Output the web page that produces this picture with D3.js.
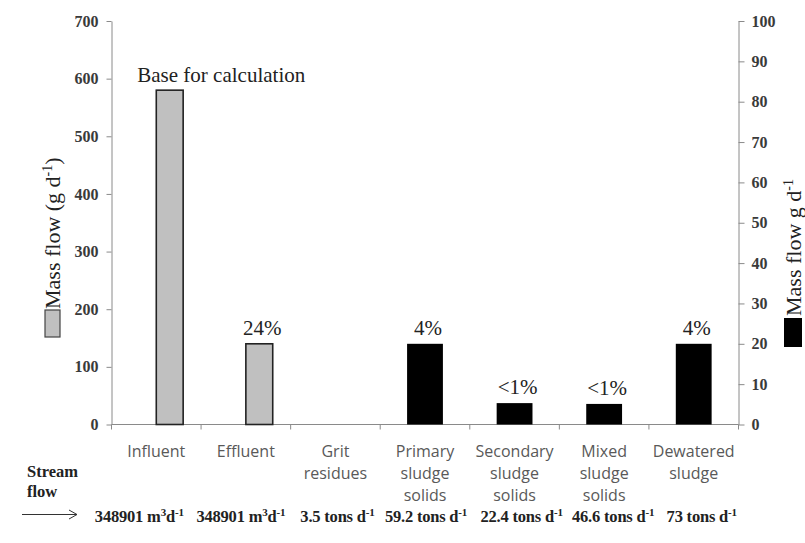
<!DOCTYPE html>
<html>
<head>
<meta charset="utf-8">
<script src="https://cdn.jsdelivr.net/npm/d3@7"></script>
<style>
  html, body { margin: 0; padding: 0; background: #fff; }
  svg { display: block; }
</style>
</head>
<body>
<svg id="chart" width="805" height="543"></svg>
<script>
// ---- data ----
const categories = ["Influent", "Effluent", "Grit residues", "Primary sludge solids",
                    "Secondary sludge solids", "Mixed sludge solids", "Dewatered sludge"];
const categoryLines = [["Influent"], ["Effluent"], ["Grit", "residues"], ["Primary", "sludge", "solids"],
                       ["Secondary", "sludge", "solids"], ["Mixed", "sludge", "solids"], ["Dewatered", "sludge"]];
// grey bars: left axis, g d-1
const greyValues = [580, 140, null, null, null, null, null];
// black bars: right axis, g d-1
const blackValues = [null, null, null, 20, 5.3, 5.1, 20];
const barLabels = ["Base for calculation", "24%", "", "4%", "<1%", "<1%", "4%"];
const streamValues = ["348901", "348901", "3.5", "59.2", "22.4", "46.6", "73"];
const streamUnits = ["m3", "m3", "tons", "tons", "tons", "tons", "tons"];
const leftTicks = [0, 100, 200, 300, 400, 500, 600, 700];
const rightTicks = [0, 10, 20, 30, 40, 50, 60, 70, 80, 90, 100];

// ---- layout ----
const svg = d3.select("#chart");
const x0 = 111.5, x1 = 738.5, yTop = 21, yBot = 424.5;
const serif = "'Liberation Serif', 'Times New Roman', serif";
const sans = "'Open Sans', 'Noto Sans', sans-serif";
const axisColor = "#8a8a8a";

const x = d3.scaleBand().domain(categories).range([x0, x1]).padding(0);
const yL = d3.scaleLinear().domain([0, 700]).range([yBot, yTop]);
const yR = d3.scaleLinear().domain([0, 100]).range([yBot, yTop]);
const bw = x.bandwidth();

// left axis
const gL = svg.append("g").attr("transform", `translate(${x0},0)`)
  .call(d3.axisLeft(yL).tickValues(leftTicks).tickSize(5).tickSizeOuter(0).tickPadding(8));
// right axis
const gR = svg.append("g").attr("transform", `translate(${x1},0)`)
  .call(d3.axisRight(yR).tickValues(rightTicks).tickSize(6).tickSizeOuter(0).tickPadding(7));
[gL, gR].forEach(g => {
  g.select(".domain").attr("stroke", axisColor);
  g.selectAll(".tick line").attr("stroke", axisColor);
  g.selectAll(".tick text").attr("fill", "#3a3a3a").attr("font-family", serif)
    .attr("font-weight", "bold").attr("font-size", 16);
});

// bottom axis line with category boundary ticks
svg.append("line").attr("x1", x0).attr("x2", x1).attr("y1", yBot).attr("y2", yBot)
  .attr("stroke", axisColor);
const bounds = categories.map(c => x(c)).concat([x1]);
svg.selectAll(".xtick").data(bounds).enter().append("line")
  .attr("x1", d => d).attr("x2", d => d).attr("y1", yBot).attr("y2", yBot + 5)
  .attr("stroke", axisColor);

// grey bars
const greyData = categories.map((c, i) => ({c, v: greyValues[i], i})).filter(d => d.v != null);
svg.selectAll(".grey").data(greyData).enter().append("rect")
  .attr("x", d => x(d.c) + bw / 2)
  .attr("width", bw * 0.3)
  .attr("y", d => yL(d.v))
  .attr("height", d => yL(0) - yL(d.v))
  .attr("fill", "#c0c0c0").attr("stroke", "#222").attr("stroke-width", 1.6);

// black bars
const blackData = categories.map((c, i) => ({c, v: blackValues[i], i})).filter(d => d.v != null);
svg.selectAll(".black").data(blackData).enter().append("rect")
  .attr("x", d => x(d.c) + bw / 2 - bw * 0.2)
  .attr("width", bw * 0.4)
  .attr("y", d => yR(d.v))
  .attr("height", d => yR(0) - yR(d.v))
  .attr("fill", "#000");

// bar labels
categories.forEach((c, i) => {
  const lab = barLabels[i];
  if (!lab) return;
  let cx, top;
  if (greyValues[i] != null) { cx = x(c) + bw / 2 + bw * 0.15; top = yL(greyValues[i]); }
  else { cx = x(c) + bw / 2; top = yR(blackValues[i]); }
  const t = svg.append("text").attr("font-family", serif).attr("font-size", 21)
    .attr("fill", "#222").text(lab);
  if (i === 0) {
    t.attr("x", x(c) + bw / 2 - 19).attr("y", top - 8).attr("text-anchor", "start");
  } else {
    t.attr("x", cx + 3).attr("y", top - 9).attr("text-anchor", "middle");
  }
});

// category labels
categories.forEach((c, i) => {
  const t = svg.append("text").attr("font-family", sans).attr("font-size", 16)
    .attr("fill", "#595959").attr("text-anchor", "middle");
  categoryLines[i].forEach((ln, k) => {
    t.append("tspan").attr("x", x(c) + bw / 2).attr("y", 457 + k * 22).text(ln);
  });
});

// stream flow row
const streamShift = [-17, -5, 2, 1, 7, 9, 8];
categories.forEach((c, i) => {
  const t = svg.append("text").attr("font-family", serif).attr("font-size", 16.5)
    .attr("font-weight", "bold").attr("fill", "#222").attr("text-anchor", "middle")
    .attr("letter-spacing", -0.2)
    .attr("x", x(c) + bw / 2 + streamShift[i]).attr("y", 522);
  t.append("tspan").text(streamValues[i] + " ");
  if (streamUnits[i] === "m3") {
    t.append("tspan").text("m");
    t.append("tspan").attr("font-size", 11).attr("dy", -6).text("3");
    t.append("tspan").attr("dy", 6).text("d");
  } else {
    t.append("tspan").text("tons d");
  }
  t.append("tspan").attr("font-size", 11).attr("dy", -6).text("-1");
});

svg.append("text").attr("font-family", serif).attr("font-size", 16.5).attr("font-weight", "bold")
  .attr("fill", "#222")
  .selectAll("tspan").data(["Stream", "flow"]).enter().append("tspan")
  .attr("x", 27).attr("y", (d, k) => 477 + k * 20).text(d => d);
// arrow
svg.append("line").attr("x1", 22).attr("x2", 77).attr("y1", 514.5).attr("y2", 514.5)
  .attr("stroke", "#333").attr("stroke-width", 1);
svg.append("path").attr("d", "M69,510 L77,514.5 L69,519").attr("fill", "none")
  .attr("stroke", "#333").attr("stroke-width", 1);

// left axis title + legend swatch
const lt = svg.append("text").attr("font-family", serif).attr("font-size", 22).attr("fill", "#222")
  .attr("transform", "translate(60,309) rotate(-90)").attr("text-anchor", "start");
lt.append("tspan").text("Mass flow (g d");
lt.append("tspan").attr("font-size", 14).attr("dy", -8).text("-1");
lt.append("tspan").attr("dy", 8).text(")");
svg.append("rect").attr("x", 45).attr("y", 310).attr("width", 15).attr("height", 27)
  .attr("fill", "#c0c0c0").attr("stroke", "#444").attr("stroke-width", 1.2);

// right axis title + legend swatch
const rt = svg.append("text").attr("font-family", serif).attr("font-size", 22).attr("fill", "#222")
  .attr("transform", "translate(801,316) rotate(-90)").attr("text-anchor", "start");
rt.append("tspan").text("Mass flow g d");
rt.append("tspan").attr("font-size", 14).attr("dy", -8).text("-1");
svg.append("rect").attr("x", 784).attr("y", 318).attr("width", 18).attr("height", 29)
  .attr("fill", "#000");
</script>
</body>
</html>
